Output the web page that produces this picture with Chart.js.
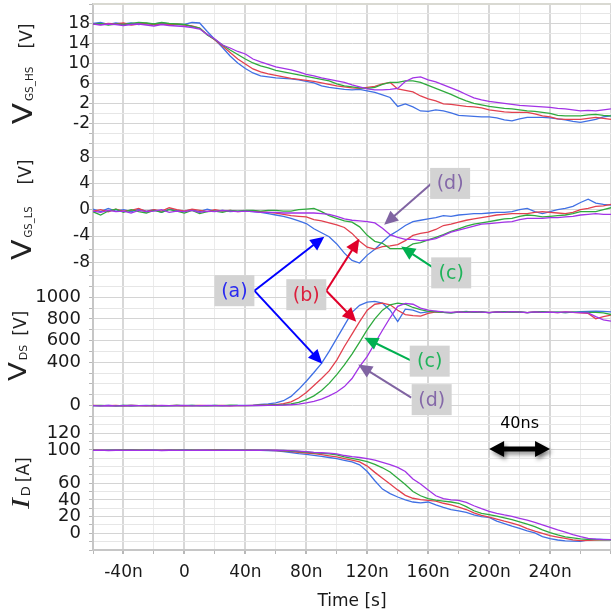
<!DOCTYPE html>
<html lang="en">
<head>
<meta charset="utf-8"/>
<title>Switching waveforms</title>
<script src="https://cdn.jsdelivr.net/npm/chart.js"></script>
<style>
  html, body { margin: 0; padding: 0; background: #fff; }
  #wrap { width: 611px; height: 614px; position: relative; }
</style>
</head>
<body>
<div id="wrap"><canvas id="wave"></canvas></div>
<script>
// time base in ns
const timeNs = [-60,-55,-50,-45,-40,-35,-30,-25,-20,-15,-10,-5,0,5,10,15,20,25,30,35,40,45,50,55,60,65,70,75,80,85,90,95,100,105,110,115,120,125,130,135,140,145,150,155,160,165,170,175,180,185,190,195,200,205,210,215,220,225,230,235,240,245,250,255,260,265,270,275,280];

// V_GS high side [V]
const hsA = [18.1,18.3,17.9,18.2,18.0,18.2,17.9,18.1,18.0,18.2,18.0,17.9,17.9,18.3,18.2,16.5,14.9,13.3,11.6,10.2,9.1,8.2,7.6,7.4,7.2,7.1,7.0,6.8,6.5,6.2,5.6,5.3,5.1,4.9,4.8,4.9,4.6,4.3,3.8,3.3,1.5,2.0,1.4,0.6,0.5,0.8,0.6,0.2,-0.3,-0.4,-0.5,-0.6,-0.6,-0.8,-1.2,-1.4,-1.0,-0.7,-0.7,-0.7,-0.8,-1.0,-1.2,-1.5,-1.7,-1.4,-1.1,-0.6,-0.4];
const hsB = [18.0,17.9,18.1,18.0,18.2,17.8,18.0,18.1,17.9,18.0,17.9,18.0,17.8,17.6,17.2,15.9,14.8,13.6,12.3,11.0,10.0,9.0,8.4,8.0,7.7,7.4,7.1,6.9,6.7,6.5,6.2,5.9,5.6,5.4,5.2,5.1,5.3,5.5,6.0,6.3,5.0,4.7,4.4,3.6,3.0,2.6,2.0,1.9,1.7,1.5,1.4,1.2,0.8,0.6,0.4,0.3,0.3,0.3,0.0,-0.4,-0.6,-1.0,-1.1,-1.1,-1.1,-0.9,-0.7,-0.9,-1.1];
const hsC = [18.0,18.1,17.8,18.0,17.9,18.1,18.3,18.2,18.0,18.3,18.1,18.0,17.9,17.5,17.2,15.8,14.9,13.8,12.8,11.9,11.0,10.2,9.6,9.2,8.7,8.4,8.1,7.8,7.5,7.2,6.9,6.6,6.0,5.6,5.4,5.2,5.1,5.3,5.9,6.3,6.3,6.6,6.6,6.3,5.7,5.1,4.5,3.9,3.2,2.6,2.1,1.8,1.5,1.3,1.1,1.0,0.8,0.6,0.5,0.3,0.1,-0.3,-0.4,-0.4,-0.4,-0.2,-0.1,-0.3,-0.4];
const hsD = [18.0,17.8,18.0,17.9,17.7,17.9,18.0,17.8,17.6,17.9,17.7,17.6,17.5,17.3,17.0,15.9,15.0,13.8,13.2,12.5,12.0,11.0,10.4,9.9,9.4,9.1,8.8,8.4,7.9,7.6,7.2,6.9,6.6,6.3,5.8,5.4,5.0,4.8,4.8,4.9,5.1,6.5,7.2,7.4,6.8,6.4,5.8,5.2,4.6,3.9,3.2,2.8,2.5,2.3,2.1,1.9,1.7,1.6,1.5,1.4,1.3,1.1,1.0,0.8,0.6,0.7,0.6,0.8,1.0];

// V_GS low side [V]
const lsA = [0.1,-0.3,0.2,-0.2,0.0,-0.3,0.1,-0.2,0.0,-0.4,0.1,-0.1,-0.2,0.0,-0.3,0.1,-0.2,-0.1,-0.3,-0.2,-0.2,-0.3,-0.4,-0.6,-0.8,-1.0,-1.3,-1.7,-2.1,-2.9,-3.5,-4.1,-5.2,-6.6,-7.7,-8.1,-6.9,-6.0,-4.9,-3.9,-3.2,-2.4,-1.8,-1.6,-1.4,-1.2,-0.9,-1.0,-0.8,-0.7,-0.6,-0.6,-0.5,-0.4,-0.4,-0.3,0.0,0.2,-0.3,-0.6,-0.3,0.0,0.2,0.5,1.1,1.6,1.0,0.8,0.7];
const lsB = [-0.2,0.0,-0.3,0.1,-0.2,-0.1,0.2,-0.3,0.0,-0.2,0.3,0.0,-0.2,0.1,-0.1,-0.3,0.0,-0.2,-0.1,-0.3,-0.2,-0.2,-0.3,-0.4,-0.5,-0.7,-0.9,-1.0,-1.1,-1.5,-1.7,-2.0,-2.3,-2.7,-3.6,-4.8,-5.7,-6.0,-5.6,-5.5,-5.3,-4.7,-3.9,-3.6,-3.4,-3.0,-2.4,-2.2,-1.9,-1.6,-1.4,-1.2,-1.0,-0.8,-0.7,-0.6,-0.6,-0.6,-0.4,-0.3,-0.4,-0.5,-0.6,-0.4,0.0,0.2,0.5,0.6,0.8];
const lsC = [-0.3,-0.8,-0.2,0.1,-0.4,0.0,-0.3,-0.5,-0.1,-0.4,0.0,-0.2,-0.5,-0.1,-0.6,-0.3,-0.2,-0.4,-0.1,-0.2,-0.1,-0.1,-0.2,-0.1,-0.1,-0.2,-0.2,0.0,0.1,0.2,-0.3,-0.9,-1.3,-1.7,-1.9,-2.6,-3.9,-4.8,-5.1,-5.9,-5.9,-5.9,-5.2,-5.0,-4.6,-4.2,-3.8,-3.3,-2.9,-2.5,-2.2,-2.0,-1.8,-1.6,-1.4,-1.3,-1.0,-0.8,-0.9,-1.1,-1.0,-0.9,-0.8,-0.6,-0.3,-0.3,-0.3,0.0,0.3];
const lsD = [-0.2,-0.4,-0.1,-0.3,-0.2,-0.5,-0.1,-0.3,-0.2,0.0,-0.4,-0.2,-0.3,-0.1,-0.4,-0.2,-0.3,-0.1,-0.2,-0.3,-0.2,-0.3,-0.4,-0.4,-0.4,-0.5,-0.5,-0.5,-0.5,-0.5,-0.6,-0.7,-1.0,-1.4,-1.6,-1.7,-1.8,-2.0,-2.8,-3.8,-4.2,-4.5,-4.5,-4.7,-4.6,-4.4,-3.9,-3.4,-3.1,-2.8,-2.5,-2.2,-2.1,-2.0,-1.9,-1.8,-1.5,-1.3,-1.3,-1.3,-1.2,-1.2,-1.1,-1.0,-0.8,-0.7,-0.6,-0.7,-0.7];

// V_DS [V]
const vdsA = [0,-3,2,-2,1,-4,0,3,-2,0,-3,1,-1,2,-2,0,1,-2,0,2,3,5,10,16,25,45,85,150,225,305,390,500,620,740,860,925,955,962,945,880,775,890,880,855,865,870,860,855,862,868,860,865,858,862,866,860,864,858,862,866,860,863,858,862,866,870,872,870,865];
const vdsB = [2,-1,0,3,-2,1,0,-3,2,0,-1,1,-2,0,2,-1,0,1,-2,0,0,2,4,7,10,18,35,70,120,185,250,320,420,545,660,775,880,935,945,930,880,840,830,825,850,865,860,858,864,860,866,862,858,864,860,866,862,858,864,860,862,858,864,860,855,850,800,820,835];
const vdsC = [-1,2,0,-2,1,3,-1,0,2,-2,0,1,-1,3,0,-2,1,0,4,1,0,0,2,4,6,8,15,30,55,90,140,205,285,375,475,585,700,800,880,930,945,935,905,885,870,865,860,855,862,866,860,864,858,862,866,860,864,858,862,866,860,863,858,862,860,860,860,855,840];
const vdsD = [0,-2,1,-3,0,2,-1,0,-2,1,0,-1,2,-2,0,1,-1,0,-2,0,0,0,0,2,3,5,8,14,25,38,60,90,125,175,250,360,455,575,695,810,915,942,935,900,880,872,865,860,864,860,866,862,858,864,860,866,862,858,864,860,862,858,864,860,858,855,820,790,780];

// I_D [A]
const idA = [99.6,99.3,99.7,99.5,99.8,99.4,99.6,99.5,99.7,99.4,99.6,99.5,99.7,99.6,99.4,99.6,99.5,99.7,99.4,99.6,99.5,99.3,99.4,99.2,98.8,98.0,96.8,95.5,94.5,93.4,92.2,90.8,89.5,87.5,85.5,82.0,74.0,63.0,53.0,47.5,43.5,40.0,37.5,36.5,37.5,34.0,31.0,28.4,27.0,25.0,22.0,20.0,19.0,14.5,11.5,8.5,6.0,3.0,0.5,-4.0,-6.5,-8.0,-9.0,-9.3,-9.6,-8.0,-7.0,-7.2,-7.6];
const idB = [99.5,99.7,99.4,99.6,99.5,99.8,99.5,99.6,99.4,99.7,99.5,99.6,99.4,99.7,99.5,99.6,99.8,99.5,99.6,99.4,99.6,99.5,99.4,99.4,99.2,98.8,97.9,97.0,96.2,95.5,94.2,92.8,91.5,89.5,87.6,85.5,80.5,73.0,66.0,59.0,52.0,45.5,42.0,40.4,39.5,38.5,36.0,34.0,31.5,28.5,24.5,21.5,19.5,17.0,14.5,12.3,9.5,5.5,2.5,0.0,-2.8,-4.5,-6.0,-7.8,-8.8,-8.5,-8.0,-7.8,-7.6];
const idC = [99.6,99.4,99.7,99.5,99.6,99.8,99.5,99.7,99.6,99.4,99.7,99.5,99.8,99.6,99.5,99.7,99.6,99.8,99.5,99.7,99.6,99.5,99.6,99.5,99.4,99.2,98.6,98.0,97.3,96.5,95.8,95.2,94.0,91.5,89.8,88.0,85.8,82.5,78.5,73.5,66.0,58.5,50.0,45.0,41.5,39.8,38.6,37.5,36.0,32.0,27.0,23.8,22.5,20.5,18.5,16.4,13.8,11.0,8.0,4.0,0.8,-2.0,-4.2,-5.5,-6.6,-7.2,-7.6,-7.8,-7.8];
const idD = [99.3,99.6,99.2,99.5,99.4,99.7,99.3,99.5,99.6,99.2,99.5,99.4,99.6,99.3,99.5,99.6,99.4,99.7,99.5,99.6,99.4,99.6,99.5,99.6,99.5,99.4,99.0,98.5,97.8,97.0,96.5,96.0,95.2,93.2,91.8,90.8,89.5,87.8,85.0,82.3,79.0,74.0,65.0,59.0,52.0,45.0,41.5,40.0,39.5,37.0,33.0,29.5,26.4,24.0,22.0,20.4,18.0,15.8,13.0,10.0,7.0,4.0,1.5,-1.5,-4.0,-6.0,-7.0,-7.5,-7.6];

// labelled ticks
const timeTickLabels = [-40, 0, 40, 80, 120, 160, 200, 240];
const hsTickLabels = [18, 14, 10, 6, 2, -2];
const lsTickLabels = [8, 4, 0, -4, -8];
const vdsTickLabels = [1000, 800, 600, 400, 0];
const idTickLabels = [120, 100, 60, 40, 20, 0];

const colA = '#4070e4', colB = '#e2404e', colC = '#2faa3e', colD = '#a233e6';

// annotation boxes and arrows, anchored in data units
const tagBoxes = [
  { text: '(a)', color: '#2a2af0', t: 32.8, axis: 'yV', v: 1060 },
  { text: '(b)', color: '#dc1e3c', t: 80.0, axis: 'yV', v: 1023 },
  { text: '(c)', color: '#1fb35a', t: 175.1, axis: 'yLS', v: -9.6 },
  { text: '(d)', color: '#8468a8', t: 174.4, axis: 'yLS', v: 4.0 },
  { text: '(c)', color: '#1fb35a', t: 161.0, axis: 'yV', v: 410 },
  { text: '(d)', color: '#8468a8', t: 162.3, axis: 'yV', v: 55 }
];
const tagArrows = [
  { color: '#0000ff', from: [45.9, 'yV', 1060], to: [91.8, 'yLS', -4.1] },
  { color: '#0000ff', from: [45.9, 'yV', 1060], to: [90.5, 'yV', 387] },
  { color: '#e0002a', from: [93.1, 'yV', 1060], to: [114.8, 'yLS', -4.4] },
  { color: '#e0002a', from: [93.1, 'yV', 1060], to: [112.8, 'yV', 774] },
  { color: '#00b050', from: [163.3, 'yLS', -8.8], to: [142.3, 'yLS', -5.6] },
  { color: '#00b050', from: [148.9, 'yV', 415], to: [118.0, 'yV', 627] },
  { color: '#8064a2', from: [162.0, 'yLS', 3.95], to: [131.1, 'yLS', -2.3] },
  { color: '#8064a2', from: [148.9, 'yV', 74], to: [114.1, 'yV', 378] }
];

function mkSeries(label, axis, values, color, order) {
  return {
    label: label,
    yAxisID: axis,
    data: values.map((v, i) => ({ x: timeNs[i], y: v })),
    borderColor: color,
    borderWidth: 1.3,
    pointRadius: 0,
    tension: 0,
    order: order
  };
}

// no extra room for half-height labels at the ends of each axis
function noEndPadding(s) {
  s.paddingTop = 0;
  s.paddingBottom = 0;
  s.paddingLeft = 0;
  s.paddingRight = 0;
}

function yAxis(min, max, step, weight, labels, pad, size) {
  return {
    type: 'linear',
    position: 'left',
    stack: 'panels',
    stackWeight: weight,
    offset: false,
    min: min,
    max: max,
    ticks: {
      stepSize: step,
      autoSkip: false,
      padding: pad,
      color: '#1a1a1a',
      font: { family: 'DejaVu Sans', size: size },
      callback: v => labels.includes(v) ? String(v) : ''
    },
    grid: {
      color: c => (c.tick && labels.includes(c.tick.value)) ? '#d4d4d4' : '#e6e6e6',
      tickLength: 4,
      tickColor: '#b8b8b8'
    },
    border: { color: '#c6c6c6', width: 2 },
    afterFit: s => { s.width = 93; noEndPadding(s); }
  };
}

function arrowHead(ctx, x1, y1, x2, y2, len, half) {
  const a = Math.atan2(y2 - y1, x2 - x1);
  const bx = x2 - len * Math.cos(a), by = y2 - len * Math.sin(a);
  ctx.beginPath();
  ctx.moveTo(x2, y2);
  ctx.lineTo(bx + half * Math.sin(a), by - half * Math.cos(a));
  ctx.lineTo(bx - half * Math.sin(a), by + half * Math.cos(a));
  ctx.closePath();
  ctx.fill();
}

// rotated axis titles with subscripts
const axisTitles = [
  { axis: 'yHS', x: 32, parts: [
    { t: 'V', f: '27px "DejaVu Sans"', s: 1.15, gap: 0, dy: 0 },
    { t: 'GS_HS', f: '10.5px "DejaVu Sans"', s: 1, gap: 2, dy: 1 },
    { t: '[V]', f: '17px "DejaVu Sans"', s: 1, gap: 18, dy: 0 }] },
  { axis: 'yLS', x: 31, parts: [
    { t: 'V', f: '26px "DejaVu Sans"', s: 1.15, gap: 0, dy: 0 },
    { t: 'GS_LS', f: '10px "DejaVu Sans"', s: 1, gap: 2, dy: 1 },
    { t: '[V]', f: '17px "DejaVu Sans"', s: 1, gap: 22, dy: 0 }] },
  { axis: 'yV', x: 26, parts: [
    { t: 'V', f: '24px "DejaVu Sans"', s: 1.15, gap: 0, dy: 0 },
    { t: 'DS', f: '11px "DejaVu Sans"', s: 1, gap: 2, dy: 1 },
    { t: '[V]', f: '17px "DejaVu Sans"', s: 1, gap: 9, dy: 0 }] },
  { axis: 'yI', x: 29, parts: [
    { t: 'I', f: 'italic 25px "Liberation Serif"', s: 1.3, gap: 0, dy: 0 },
    { t: 'D', f: '13px "DejaVu Sans"', s: 1, gap: 2, dy: 1 },
    { t: '[A]', f: '17px "DejaVu Sans"', s: 1, gap: 4, dy: 0 }] }
];

const decorPlugin = {
  id: 'decor',
  afterDatasetsDraw(chart) {
    const ctx = chart.ctx, area = chart.chartArea, sc = chart.scales;
    const px = t => sc.x.getPixelForValue(t);
    const py = (axis, v) => sc[axis].getPixelForValue(v);
    ctx.save();
    // top frame line
    ctx.strokeStyle = '#d9d9d2';
    ctx.lineWidth = 2;
    ctx.beginPath();
    ctx.moveTo(area.left, area.top);
    ctx.lineTo(area.right, area.top);
    ctx.stroke();

    // arrows
    tagArrows.forEach(a => {
      const x1 = px(a.from[0]), y1 = py(a.from[1], a.from[2]);
      const x2 = px(a.to[0]), y2 = py(a.to[1], a.to[2]);
      const ang = Math.atan2(y2 - y1, x2 - x1);
      ctx.strokeStyle = a.color;
      ctx.fillStyle = a.color;
      ctx.lineWidth = 2;
      ctx.beginPath();
      ctx.moveTo(x1, y1);
      ctx.lineTo(x2 - 10 * Math.cos(ang), y2 - 10 * Math.sin(ang));
      ctx.stroke();
      arrowHead(ctx, x1, y1, x2, y2, 14, 6.5);
    });

    // label boxes
    ctx.textAlign = 'center';
    ctx.textBaseline = 'middle';
    ctx.font = '19px "DejaVu Sans"';
    tagBoxes.forEach(b => {
      const cx = px(b.t), cy = py(b.axis, b.v);
      ctx.fillStyle = '#d3d3d3';
      ctx.fillRect(cx - 20, cy - 15.5, 40, 31);
      ctx.fillStyle = b.color;
      ctx.fillText(b.text, cx, cy + 1);
    });

    // 40ns scale marker
    const sx1 = px(200), sx2 = px(240), sy = py('yI', 101);
    ctx.fillStyle = '#000';
    ctx.font = '16px "DejaVu Sans"';
    ctx.fillText('40ns', (sx1 + sx2) / 2, py('yI', 131));
    ctx.shadowColor = 'rgba(0,0,0,0.45)';
    ctx.shadowBlur = 4;
    ctx.shadowOffsetX = 2;
    ctx.shadowOffsetY = 3;
    ctx.strokeStyle = '#000';
    ctx.lineWidth = 5;
    ctx.beginPath();
    ctx.moveTo(sx1 + 10, sy);
    ctx.lineTo(sx2 - 10, sy);
    ctx.stroke();
    arrowHead(ctx, sx2, sy, sx1, sy, 15, 8);
    arrowHead(ctx, sx1, sy, sx2, sy, 15, 8);
    ctx.restore();

    // axis titles
    ctx.save();
    ctx.fillStyle = '#222';
    ctx.textAlign = 'left';
    ctx.textBaseline = 'alphabetic';
    axisTitles.forEach(ti => {
      const s = sc[ti.axis];
      const cy = (s.top + s.bottom) / 2;
      let total = 0;
      const widths = ti.parts.map(p => {
        ctx.font = p.f;
        const w = ctx.measureText(p.t).width * p.s;
        total += w + p.gap;
        return w;
      });
      ctx.save();
      ctx.translate(ti.x, cy);
      ctx.rotate(-Math.PI / 2);
      let pos = -total / 2;
      ti.parts.forEach((p, i) => {
        pos += p.gap;
        ctx.font = p.f;
        ctx.save();
        ctx.translate(pos, p.dy);
        ctx.scale(p.s, 1);
        ctx.fillText(p.t, 0, 0);
        ctx.restore();
        pos += widths[i];
      });
      ctx.restore();
    });
    ctx.restore();
  }
};

new Chart(document.getElementById('wave'), {
  type: 'line',
  data: {
    datasets: [
      mkSeries('HS a', 'yHS', hsA, colA, 4), mkSeries('HS b', 'yHS', hsB, colB, 3),
      mkSeries('HS c', 'yHS', hsC, colC, 2), mkSeries('HS d', 'yHS', hsD, colD, 1),
      mkSeries('LS a', 'yLS', lsA, colA, 4), mkSeries('LS b', 'yLS', lsB, colB, 3),
      mkSeries('LS c', 'yLS', lsC, colC, 2), mkSeries('LS d', 'yLS', lsD, colD, 1),
      mkSeries('DS a', 'yV', vdsA, colA, 4), mkSeries('DS b', 'yV', vdsB, colB, 3),
      mkSeries('DS c', 'yV', vdsC, colC, 2), mkSeries('DS d', 'yV', vdsD, colD, 1),
      mkSeries('ID a', 'yI', idA, colA, 4), mkSeries('ID b', 'yI', idB, colB, 3),
      mkSeries('ID c', 'yI', idC, colC, 2), mkSeries('ID d', 'yI', idD, colD, 1)
    ]
  },
  options: {
    responsive: true,
    maintainAspectRatio: false,
    animation: false,
    layout: { padding: { top: 4, right: 0, left: 0, bottom: 0 } },
    plugins: { legend: { display: false }, tooltip: { enabled: false } },
    scales: {
      x: {
        type: 'linear',
        min: -60,
        max: 280,
        ticks: {
          stepSize: 20,
          autoSkip: false,
          maxRotation: 0,
          padding: 8,
          color: '#1a1a1a',
          font: { family: 'DejaVu Sans', size: 17 },
          callback: v => timeTickLabels.includes(v) ? (v === 0 ? '0' : v + 'n') : ''
        },
        grid: {
          color: c => (c.tick && c.tick.value % 40 === 0) ? '#d8d8d8' : '#ebebeb',
          lineWidth: c => (c.tick && c.tick.value % 40 === 0) ? 2 : 1,
          tickLength: 4,
          tickColor: '#b8b8b8'
        },
        border: { color: '#c6c6c6', width: 2 },
        title: {
          display: true,
          text: 'Time [s]',
          color: '#1a1a1a',
          font: { family: 'DejaVu Sans', size: 17 },
          padding: { top: 0, bottom: 2 }
        },
        afterFit: s => { s.height = 64; noEndPadding(s); }
      },
      yI: yAxis(-20, 140, 10, 133.6, idTickLabels, 8, 18),
      yV: yAxis(-100, 1200, 100, 141, vdsTickLabels, 8, 18),
      yLS: yAxis(-10, 10, 2, 131.6, lsTickLabels, -1, 17),
      yHS: yAxis(-6, 22, 2, 140, hsTickLabels, -1, 17)
    }
  },
  plugins: [decorPlugin]
});
</script>
</body>
</html>
